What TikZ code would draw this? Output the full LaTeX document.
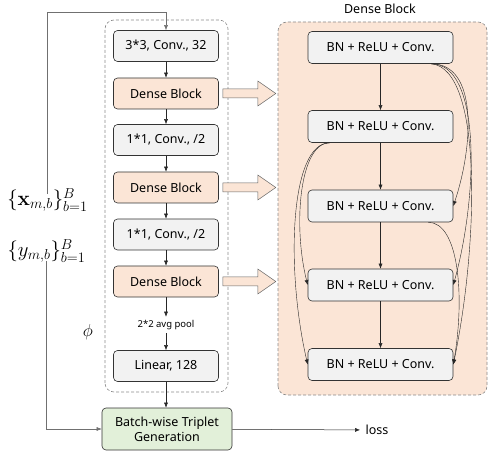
\documentclass[tikz,border=0pt]{standalone}
\usepackage{amsmath}
\usepackage[no-math]{fontspec}
\setmainfont{Noto Sans}
\usetikzlibrary{arrows.meta}
\definecolor{boxgray}{HTML}{F2F2F2}
\definecolor{peach}{HTML}{FBE5D6}
\definecolor{mintgreen}{HTML}{E2F0D9}
\definecolor{framegray}{HTML}{8A8A8A}
\definecolor{wiregray}{HTML}{707070}
\tikzset{
	layer/.style={draw=black!80, line width=0.6pt, fill=boxgray, rounded corners=4pt, minimum width=105pt, minimum height=31pt, inner sep=2pt, font=\fontsize{12.5}{14}\selectfont},
	denselayer/.style={layer, fill=peach},
	unit/.style={layer, minimum width=145pt, minimum height=32pt},
	frame/.style={draw=framegray, line width=0.6pt, dash pattern=on 3pt off 2pt, rounded corners=9pt},
	flow/.style={-{Latex[length=5pt,width=4pt]}, black!85, line width=0.5pt},
	wire/.style={flow, wiregray},
	skip/.style={flow, line width=0.4pt},
	hollow/.style={draw=black!60, fill=peach, line width=0.5pt},
}
\newcommand{\fatarrow}[1]{%
	\draw[hollow] ([xshift=4pt,yshift=4.5pt]#1.east) -- ++(35,0) -- ++(0,8)
		-- ++(18,-12.5) -- ++(-18,-12.5) -- ++(0,8) -- ++(-35,0) -- cycle;
}
\begin{document}
\begin{tikzpicture}[x=1pt,y=1pt]
	\useasboundingbox (0,0) rectangle (498,453);
	
	% dense block detail
	\draw[frame, fill=peach] (278,58) rectangle (487,431);
	\node[font=\fontsize{12.5}{14}\selectfont] (title) at (380,444) {Dense Block};
	
	% network phi
	\draw[frame] (105,61) rectangle (228,433);
	
	\node[layer] (conv) at (166,407) {3*3, Conv., 32};
	\node[denselayer] (dense1) at (166,359.5) {Dense Block};
	\node[layer] (trans1) at (166,313) {1*1, Conv., /2};
	\node[denselayer] (dense2) at (166,265.5) {Dense Block};
	\node[layer] (trans2) at (166,218.5) {1*1, Conv., /2};
	\node[denselayer] (dense3) at (166,171.5) {Dense Block};
	\node[font=\fontsize{9.5}{11}\selectfont] (pool) at (166,128) {2*2 avg pool};
	\node[layer] (linear) at (166,87) {Linear, 128};
	\node[layer, fill=mintgreen, minimum width=130pt, minimum height=42pt, align=center, font=\fontsize{12.5}{15}\selectfont] (batch) at (167,24) {Batch-wise Triplet\\Generation};
	\node[font=\fontsize{12.5}{14}\selectfont] (loss) at (377,23) {loss};
	
	\node[inner sep=0pt] (xlab) at (47.5,253) {\fontsize{20}{22}\selectfont $\{\mathbf{x}_{m,b}\}_{b=1}^{B}$};
	\node[inner sep=0pt] (ylab) at (46.5,202) {\fontsize{20}{22}\selectfont $\{y_{m,b}\}_{b=1}^{B}$};
	\node (phi) at (88,121) {\fontsize{17}{19}\selectfont $\phi$};
	
	\draw[flow] (conv) -- (dense1);
	\draw[flow] (dense1) -- (trans1);
	\draw[flow] (trans1) -- (dense2);
	\draw[flow] (dense2) -- (trans2);
	\draw[flow] (trans2) -- (dense3);
	\draw[flow] (dense3) -- (pool);
	\draw[flow] (pool) -- (linear);
	\draw[flow] (linear) -- (batch.north -| linear);
	\draw[flow, shorten >=2pt] (batch) -- (loss);
	
	\draw[wire] ([yshift=-6pt]xlab.north) |- ([yshift=18pt]conv.north) -- (conv.north);
	\draw[wire] ([yshift=2pt]ylab.south) |- (batch.west);
	
	\fatarrow{dense1}
	\fatarrow{dense2}
	\fatarrow{dense3}
	
	% units inside the block
	\foreach \y [count=\i] in {405.5,326.5,247,168,88.5} {
		\node[unit] (u\i) at (380.5,\y) {BN + ReLU + Conv.};
	}
	\foreach \i [count=\j from 2] in {1,...,4} {
		\draw[flow] (u\i) -- (u\j);
	}
	
	% skip connections
	\draw[skip] ([xshift=-22pt]u1.south east) .. controls +(47,0) and +(20,60) .. (u3.east);
	\draw[skip] ([xshift=-22pt]u1.south east) .. controls +(50,0) and +(25,90) .. (u4.east);
	\draw[skip] ([xshift=-22pt]u1.south east) .. controls +(52,-5) and +(25,120) .. (u5.east);
	\draw[skip] ([xshift=-25pt]u3.south east) .. controls +(30,0) and +(12,70) .. (u5.east);
	\draw[skip] ([xshift=22pt]u2.south west) .. controls +(-30,0) and +(-15,60) .. (u4.west);
	\draw[skip] ([xshift=22pt]u2.south west) .. controls +(-40,0) and +(-22,95) .. (u5.west);
	
\end{tikzpicture}
\end{document}
